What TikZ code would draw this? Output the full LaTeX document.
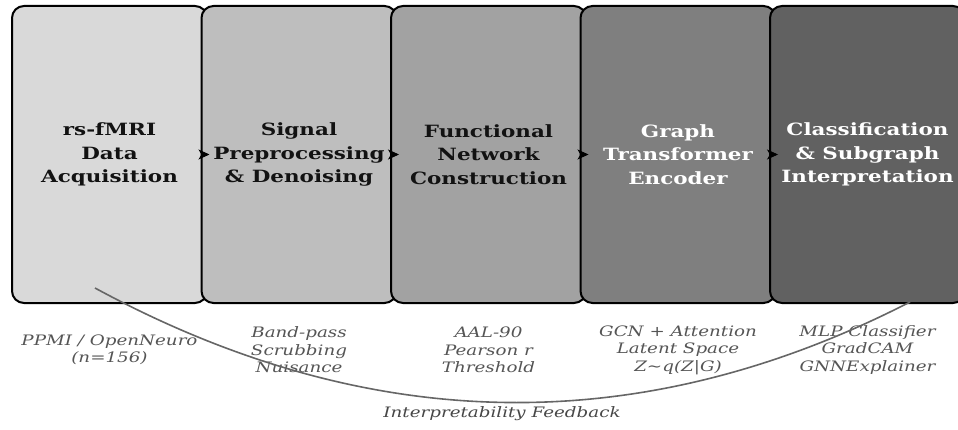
\documentclass[tikz,border=0pt]{standalone}
\usepackage{fontspec}
\setmainfont[FakeStretch=1.27]{DejaVu Serif}
\usetikzlibrary{arrows.meta}
\definecolor{c1}{HTML}{D9D9D9}
\definecolor{c2}{HTML}{BEBEBE}
\definecolor{c3}{HTML}{A2A2A2}
\definecolor{c4}{HTML}{7F7F7F}
\definecolor{c5}{HTML}{616161}
\definecolor{subc}{HTML}{555555}
\definecolor{fbc}{HTML}{666666}
\tikzset{
  stagebox/.style={draw=black, line width=2pt, rounded corners=12pt,
    minimum width=195pt, minimum height=297pt, inner sep=0pt,
    align=center, font=\fontsize{16.9}{23.5}\selectfont\bfseries},
  subtext/.style={align=center, text=subc, font=\fontsize{14.4}{17.5}\selectfont\itshape},
  flowarrow/.style={-{Stealth[length=11pt,width=10pt,inset=3pt]}, line width=0.8pt, black, shorten >=-1.5pt},
  feedback/.style={draw=fbc, line width=1.6pt},
}
\begin{document}
\begin{tikzpicture}[x=1pt,y=-1pt]
\useasboundingbox (0,0) rectangle (958,430);
\clip (0,0) rectangle (958,430);
\node[stagebox, fill=c1, text=black!93] (b1) at (109.5,154.5) {rs-fMRI\\Data\\Acquisition};
\node[stagebox, fill=c2, text=black!93] (b2) at (299,154.5) {Signal\\Preprocessing\\\& Denoising};
\node[stagebox, fill=c3, text=black!93] (b3) at (488.5,154.5) {Functional\\Network\\Construction};
\node[stagebox, fill=c4, text=white] (b4) at (678,154.5) {Graph\\Transformer\\Encoder};
\node[stagebox, fill=c5, text=white] (b5) at (867.5,154.5) {Classification\\\& Subgraph\\Interpretation};
\draw[flowarrow] (b2.west) -- (b1.east);
\draw[flowarrow] (b3.west) -- (b2.east);
\draw[flowarrow] (b4.west) -- (b3.east);
\draw[flowarrow] (b5.west) -- (b4.east);
\node[subtext] (s1) at (109.5,350) {PPMI / OpenNeuro\\(n=156)};
\node[subtext] (s2) at (299,350) {Band-pass\\Scrubbing\\Nuisance};
\node[subtext] (s3) at (488.5,350) {AAL-90\\Pearson r\\Threshold};
\node[subtext] (s4) at (678,350) {GCN + Attention\\Latent Space\\Z\char"223C q(Z|G)};
\node[subtext] (s5) at (867.5,350) {MLP Classifier\\GradCAM\\GNNExplainer};
\coordinate (fa) at (95,288);
\coordinate (fb) at (910,302);
\draw[feedback] (fa) .. controls (368,436) and (640,440.5) .. (fb);
\node[subtext, text=black!72] (fl) at (502,414) {Interpretability Feedback};
\end{tikzpicture}
\end{document}
